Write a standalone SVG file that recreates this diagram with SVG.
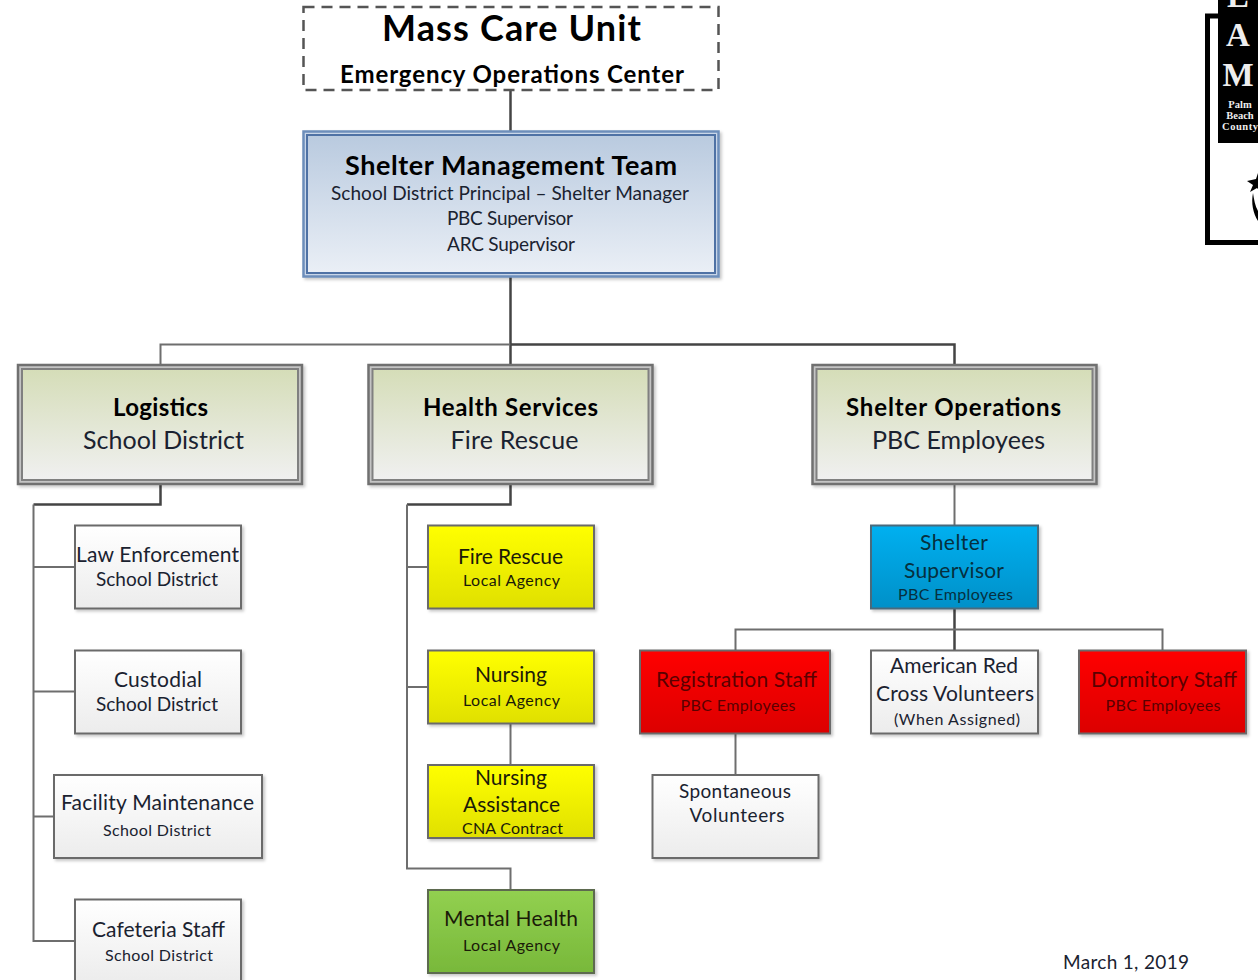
<svg xmlns="http://www.w3.org/2000/svg" width="1258" height="980" viewBox="0 0 1258 980">
<style>
text{font-family:Lato,"Liberation Sans",sans-serif;text-anchor:middle;fill:#1a2230}
.b{font-weight:700;fill:#000}
.box{stroke:#6b6b6b;stroke-width:2;filter:url(#sh)}
.w{fill:url(#gw)}.y{fill:url(#gy)}.r{fill:url(#gr)}
.outer{fill:#c4c4c4;stroke:#707070;stroke-width:2.500;filter:url(#sh)}
.inner{fill:url(#gg);stroke:#808080;stroke-width:2}
.c{fill:none;stroke:#6e6e6e;stroke-width:2}
.d{fill:none;stroke:#444;stroke-width:2.500}
.t18{font-size:19px}.t15{font-size:16px}.t21{font-size:21px}
.dk{fill:#1b1b08}.rd{fill:#5a0000}.bl{fill:#06303f}
.lg{font-family:"Liberation Serif",serif;fill:#eee;font-weight:700}
</style>
<defs>
<linearGradient id="gb" x1="0" y1="0" x2="0" y2="1"><stop offset="0" stop-color="#b9cadf"/><stop offset="1" stop-color="#eaeff6"/></linearGradient>
<linearGradient id="gg" x1="0" y1="0" x2="0" y2="1"><stop offset="0" stop-color="#d5ddb8"/><stop offset="1" stop-color="#f0f0f0"/></linearGradient>
<linearGradient id="gw" x1="0" y1="0" x2="0" y2="1"><stop offset="0" stop-color="#fff"/><stop offset="1" stop-color="#ececec"/></linearGradient>
<linearGradient id="gy" x1="0" y1="0" x2="0" y2="1"><stop offset="0" stop-color="#ffff00"/><stop offset="1" stop-color="#e0e000"/></linearGradient>
<linearGradient id="gr" x1="0" y1="0" x2="0" y2="1"><stop offset="0" stop-color="#ff0000"/><stop offset="1" stop-color="#dc0000"/></linearGradient>
<linearGradient id="gc" x1="0" y1="0" x2="0" y2="1"><stop offset="0" stop-color="#00b0f0"/><stop offset="1" stop-color="#0090c8"/></linearGradient>
<linearGradient id="gm" x1="0" y1="0" x2="0" y2="1"><stop offset="0" stop-color="#92d050"/><stop offset="1" stop-color="#78b83a"/></linearGradient>
<filter id="sh" x="-5%" y="-5%" width="112%" height="115%"><feDropShadow dx="2" dy="2" stdDeviation="1.500" flood-color="#000" flood-opacity=".22"/></filter>
</defs>

<g id="connectors">
<path class="d" d="M510.500 90V131"/>
<path class="d" d="M510.500 277V365"/>
<path class="c" d="M160.500 365V344.500H510.500"/>
<path class="d" d="M510.500 344.500H954.500V365"/>
<path class="d" d="M160.500 485V504.500H33.500"/>
<path class="c" d="M33.500 504.500V941H75M33.500 567H75M33.500 691.500H75M33.500 816.500H54"/>
<path class="d" d="M510.500 485V504.500H407"/>
<path class="c" d="M407 504.500V868.500H510.500V890M407 567H428M407 687H428"/>
<path class="c" d="M510.500 724V765"/>
<path class="c" d="M954.500 485V525"/>
<path class="d" d="M954.500 609V650"/>
<path class="c" d="M735.500 650V629.500H1162.500V650"/>
<path class="c" d="M735.500 734V775"/>
</g>

<g id="mass-care-unit">
<rect x="303.500" y="7" width="415" height="83" fill="#fff" stroke="#555" stroke-width="2.500" stroke-dasharray="11 7"/>
<text x="511.500" y="41" class="b" font-size="36" textLength="259">Mass Care Unit</text>
<text x="512" y="83" class="b" font-size="24" textLength="344">Emergency Operations Center</text>
</g>

<g id="shelter-management-team">
<rect x="303.500" y="131.500" width="415" height="145" fill="#c9d6e8" stroke="#6d8ebb" stroke-width="2.500" filter="url(#sh)"/>
<rect x="307" y="135" width="408" height="138" fill="url(#gb)" stroke="#4f72a5" stroke-width="2"/>
<text x="511" y="175" class="b" font-size="27" textLength="332">Shelter Management Team</text>
<text x="510" y="200" class="t18" textLength="358">School District Principal – Shelter Manager</text>
<text x="510" y="225" class="t18" textLength="126">PBC Supervisor</text>
<text x="511" y="251" class="t18" textLength="128">ARC Supervisor</text>
</g>

<g id="logistics">
<rect x="18" y="365" width="284" height="119" class="outer"/>
<rect x="22" y="369" width="276" height="111" class="inner"/>
<text x="160.500" y="416" class="b" font-size="24" textLength="95">Logistics</text>
<text x="163.500" y="449" font-size="25" textLength="161">School District</text>
</g>
<g id="health-services">
<rect x="368.500" y="365" width="284" height="119" class="outer"/>
<rect x="372.500" y="369" width="276" height="111" class="inner"/>
<text x="510.500" y="416" class="b" font-size="24" textLength="175">Health Services</text>
<text x="514.500" y="449" font-size="25" textLength="128">Fire Rescue</text>
</g>
<g id="shelter-operations">
<rect x="812.500" y="365" width="284" height="119" class="outer"/>
<rect x="816.500" y="369" width="276" height="111" class="inner"/>
<text x="953.500" y="416" class="b" font-size="24" textLength="215">Shelter Operations</text>
<text x="958.500" y="449" font-size="25" textLength="173">PBC Employees</text>
</g>

<g id="law-enforcement"><rect x="75" y="525.500" width="166" height="83" class="box w"/>
<text x="157.500" y="562" class="t21" textLength="163">Law Enforcement</text><text x="157" y="586" class="t18" textLength="122">School District</text></g>
<g id="custodial"><rect x="75" y="650.500" width="166" height="83" class="box w"/>
<text x="158" y="687" class="t21" textLength="88">Custodial</text><text x="157" y="711" class="t18" textLength="122">School District</text></g>
<g id="facility-maintenance"><rect x="54" y="775" width="208" height="83" class="box w"/>
<text x="157.500" y="810" class="t21" textLength="193">Facility Maintenance</text><text x="157" y="836" class="t15" textLength="108">School District</text></g>
<g id="cafeteria-staff"><rect x="75" y="899.500" width="166" height="84" class="box w"/>
<text x="158.500" y="937" class="t21" textLength="133">Cafeteria Staff</text><text x="159" y="961" class="t15" textLength="108">School District</text></g>

<g id="fire-rescue"><rect x="428" y="525.500" width="166" height="83" class="box y"/>
<text x="510.500" y="564" class="t21 dk" textLength="105">Fire Rescue</text><text x="511.500" y="586" class="t15 dk" textLength="97">Local Agency</text></g>
<g id="nursing"><rect x="428" y="650.500" width="166" height="73" class="box y"/>
<text x="511" y="682" class="t21 dk" textLength="72">Nursing</text><text x="511.500" y="706" class="t15 dk" textLength="97">Local Agency</text></g>
<g id="nursing-assistance"><rect x="428" y="765" width="166" height="73" class="box y"/>
<text x="511" y="785" class="t21 dk" textLength="72">Nursing</text><text x="511.500" y="812" class="t21 dk" textLength="97">Assistance</text><text x="512.500" y="834" class="t15 dk" textLength="101">CNA Contract</text></g>
<g id="mental-health"><rect x="428" y="890" width="166" height="83" fill="url(#gm)" stroke="#5d6b50" stroke-width="2" filter="url(#sh)"/>
<text x="511" y="926" class="t21 dk" textLength="134">Mental Health</text><text x="511.500" y="951" class="t15 dk" textLength="97">Local Agency</text></g>

<g id="shelter-supervisor"><rect x="871" y="525.500" width="167" height="83" fill="url(#gc)" stroke="#4a6a7c" stroke-width="2" filter="url(#sh)"/>
<text x="954" y="550" class="t21 bl" textLength="68">Shelter</text><text x="954" y="578" class="t21 bl" textLength="100">Supervisor</text><text x="955.500" y="600" class="t15 bl" textLength="115">PBC Employees</text></g>
<g id="registration-staff"><rect x="640" y="650.500" width="190" height="83" class="box r"/>
<text x="736.500" y="687" class="t21 rd" textLength="161">Registration Staff</text><text x="738" y="711" class="t15 rd" textLength="115">PBC Employees</text></g>
<g id="american-red-cross"><rect x="871" y="650.500" width="167" height="83" class="box w"/>
<text x="954" y="673" class="t21" textLength="128">American Red</text><text x="955" y="701" class="t21" textLength="158">Cross Volunteers</text><text x="957" y="725" class="t15" textLength="126">(When Assigned)</text></g>
<g id="dormitory-staff"><rect x="1079" y="650.500" width="167" height="83" class="box r"/>
<text x="1164" y="687" class="t21 rd" textLength="146">Dormitory Staff</text><text x="1163" y="711" class="t15 rd" textLength="115">PBC Employees</text></g>
<g id="spontaneous-volunteers"><rect x="652.500" y="775" width="166" height="83" class="box w"/>
<text x="735" y="798" class="t18" textLength="112">Spontaneous</text><text x="737" y="822" class="t18" textLength="95">Volunteers</text></g>

<text x="1126" y="969" font-size="19" textLength="126">March  1, 2019</text>

<g id="logo">
<path d="M1258 16H1207.500V242.500H1258" fill="none" stroke="#000" stroke-width="5"/>
<rect x="1218" y="0" width="40" height="143" fill="#000"/>
<text x="1238" y="7" font-size="33" class="lg">E</text>
<text x="1238" y="46" font-size="33" class="lg">A</text>
<text x="1238" y="86" font-size="33" class="lg">M</text>
<text x="1240" y="108" font-size="10.500" class="lg">Palm</text>
<text x="1240" y="119" font-size="10.500" class="lg">Beach</text>
<text x="1240" y="130" font-size="10.500" class="lg" textLength="36">County</text>
<path d="M1258 173l-2 6-9 2 6 4-3 7 7-4 1 1z" fill="#000"/>
<path d="M1253 193c-2 10 0 20 5 28v-10c-3-5-4-12-5-18z" fill="#000"/>
</g>
</svg>
